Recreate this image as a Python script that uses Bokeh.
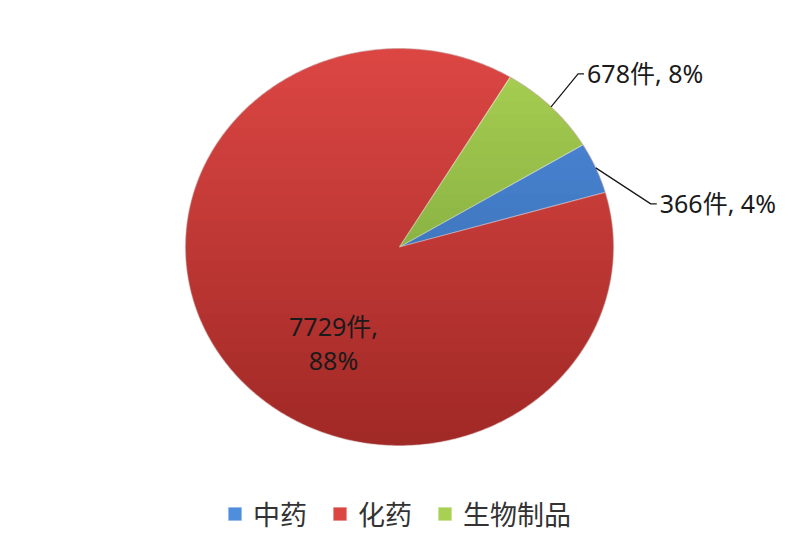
import numpy as np
from bokeh.plotting import figure
from bokeh.models import ColumnDataSource, Range1d, Legend, LegendItem
from bokeh.embed import file_html
from bokeh.resources import INLINE
from bokeh.core.properties import value

# ---------------- data ----------------
categories = ["中药", "化药", "生物制品"]
counts = [366, 7729, 678]
unit = "件"
colors = ["#4e8edc", "#db4643", "#a8d052"]
inside_label = [False, True, False]

# ---------------- layout ----------------
FONT = "Noto Sans CJK SC"
LBL_FONT = "'Noto Sans', 'Noto Sans CJK SC'"
W, H = 798, 546
CX, CY, RX, RY = 399.0, 246.5, 214.0, 198.5
START_DEG = 31.0           # first slice starts here, clockwise
outside_offsets = {0: (55, 36), 2: (27, -33)}
inside_pos = {1: (333, 342)}

p = figure(width=W, height=H, x_range=Range1d(0, W), y_range=Range1d(H, 0),
           x_axis_type=None, y_axis_type=None, output_backend="svg",
           toolbar_location=None, min_border=0)
p.grid.visible = False
p.outline_line_color = None
p.background_fill_color = "white"
p.border_fill_color = "white"

total = float(sum(counts))
pcts = [int(round(100.0 * c / total)) for c in counts]

def ell(t):
    return CX + RX * np.cos(t), CY - RY * np.sin(t)

xs, ys, mids = [], [], []
a0 = np.radians(START_DEG)
for c in counts:
    a1 = a0 - 2 * np.pi * c / total
    n = max(4, int(abs(a1 - a0) / np.radians(0.5)))
    t = np.linspace(a0, a1, n)
    ex, ey = ell(t)
    xs.append([CX] + list(ex))
    ys.append([CY] + list(ey))
    mids.append((a0 + a1) / 2)
    a0 = a1

src = ColumnDataSource(dict(xs=xs, ys=ys, color=colors, cat=categories))
r = p.patches("xs", "ys", source=src, fill_color="color", line_color="white",
              line_alpha=0.35, line_width=1.2)

# vertical shading (darker toward bottom), stacked translucent layers
N = 30
a_layer = 1 - (0.80) ** (1.0 / N)
top, bot = CY - RY, CY + RY
gx, gy = [], []
for k in range(1, N):
    yk = round(top + (bot - top) * k / N)
    s = np.clip((CY - yk) / RY, -1, 1)
    t = np.linspace(np.pi - np.arcsin(s), 2 * np.pi + np.arcsin(s), 160)
    ex, ey = ell(t)
    gx.append(list(ex)); gy.append(list(ey))
p.patches(gx, gy, fill_color="#202020", fill_alpha=a_layer, line_color=None)

# soft rim
tt = np.linspace(0, 2 * np.pi, 600)
rx_, ry_ = ell(tt)
p.line(list(rx_), list(ry_), line_color="#6a1f1d", line_alpha=0.2, line_width=1.2)

# labels
for i, (c, pc) in enumerate(zip(counts, pcts)):
    if inside_label[i]:
        x0, y0 = inside_pos[i]
        p.text([x0], [y0], text=[f"{c}{unit},\n{pc}%"], text_align="center",
               text_baseline="middle", text_font=value(LBL_FONT), text_font_size="25px",
               text_color="#1a1a1a", text_line_height=1.0)
    else:
        ax, ay = ell(mids[i])
        dx, dy = outside_offsets[i]
        exx, eyy = ax + dx, ay + dy
        p.line([ax, exx, exx + 6], [ay, eyy, eyy], line_color="#1a1a1a", line_width=1.3)
        p.text([exx + 9], [eyy - 1], text=[f"{c}{unit}, {pc}%"], text_align="left",
               text_baseline="middle", text_font=value(LBL_FONT), text_font_size="25px",
               text_color="#1a1a1a")

legend = Legend(items=[LegendItem(label=categories[i], renderers=[r], index=i)
                       for i in range(len(categories))],
                orientation="horizontal", location=(226, 13),
                glyph_width=17, glyph_height=17, label_standoff=10, spacing=24,
                padding=0, margin=0, border_line_color=None, background_fill_alpha=0,
                label_text_font=FONT, label_text_font_size="27px",
                label_text_color="#333333")
p.add_layout(legend)

open("out.html", "w").write(file_html(p, INLINE))
